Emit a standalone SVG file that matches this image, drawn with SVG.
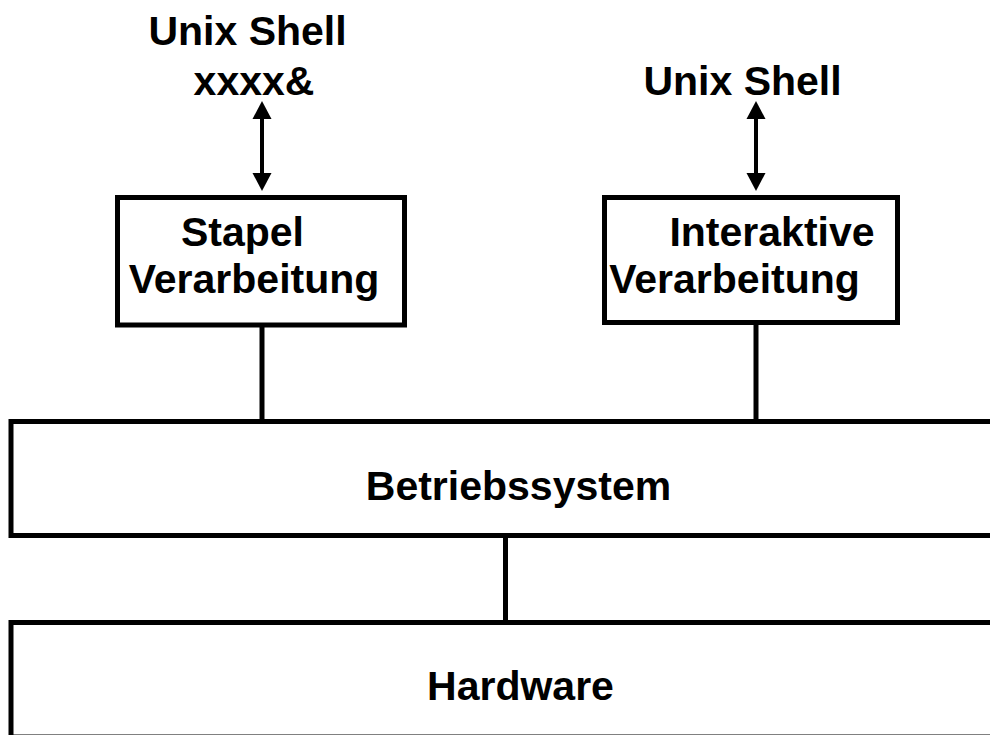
<svg xmlns="http://www.w3.org/2000/svg" width="990" height="735" viewBox="0 0 990 735">
<defs>
<style>
.box{fill:#fff;stroke:#000;stroke-width:5}
.ln{stroke:#000;stroke-width:5;fill:none}
.sh{stroke:#000;stroke-width:4;fill:none}
.hd{fill:#000}
.t{font-family:"Liberation Sans",Arial,sans-serif;font-weight:bold;font-size:41px;fill:#000}
</style>
</defs>
<rect width="990" height="735" fill="#fff"/>
<g id="connectors">
<line class="sh" x1="262" y1="115" x2="262" y2="176"/>
<polygon class="hd" points="262,101 252.5,119 271.5,119"/>
<polygon class="hd" points="262,191 252.5,173 271.5,173"/>
<line class="sh" x1="756" y1="115" x2="756" y2="176"/>
<polygon class="hd" points="756,101 746.5,119 765.5,119"/>
<polygon class="hd" points="756,191 746.5,173 765.5,173"/>
<line class="ln" x1="262" y1="325" x2="262" y2="421"/>
<line class="ln" x1="756" y1="322" x2="756" y2="421"/>
<line class="ln" x1="505.5" y1="535" x2="505.5" y2="622"/>
</g>
<g id="shell1">
<text class="t" x="247.5" y="45" text-anchor="middle">Unix Shell</text>
<text class="t" x="254" y="95" text-anchor="middle">xxxx&amp;</text>
</g>
<g id="shell2">
<text class="t" x="742.5" y="95" text-anchor="middle">Unix Shell</text>
</g>
<g id="stapel">
<rect class="box" x="117.5" y="197.5" width="287" height="127.5"/>
<text class="t" x="242.5" y="246" text-anchor="middle">Stapel</text>
<text class="t" x="254" y="293" text-anchor="middle">Verarbeitung</text>
</g>
<g id="interaktiv">
<rect class="box" x="604.5" y="197.5" width="293" height="125"/>
<text class="t" x="772" y="246" text-anchor="middle">Interaktive</text>
<text class="t" x="734.5" y="293" text-anchor="middle">Verarbeitung</text>
</g>
<g id="betriebssystem">
<rect class="box" x="11" y="421.5" width="1000" height="114"/>
<text class="t" x="518.5" y="500" text-anchor="middle">Betriebssystem</text>
</g>
<g id="hardware">
<rect class="box" x="11" y="622.5" width="1000" height="114.5"/>
<text class="t" x="520.5" y="700" text-anchor="middle">Hardware</text>
</g>
</svg>
